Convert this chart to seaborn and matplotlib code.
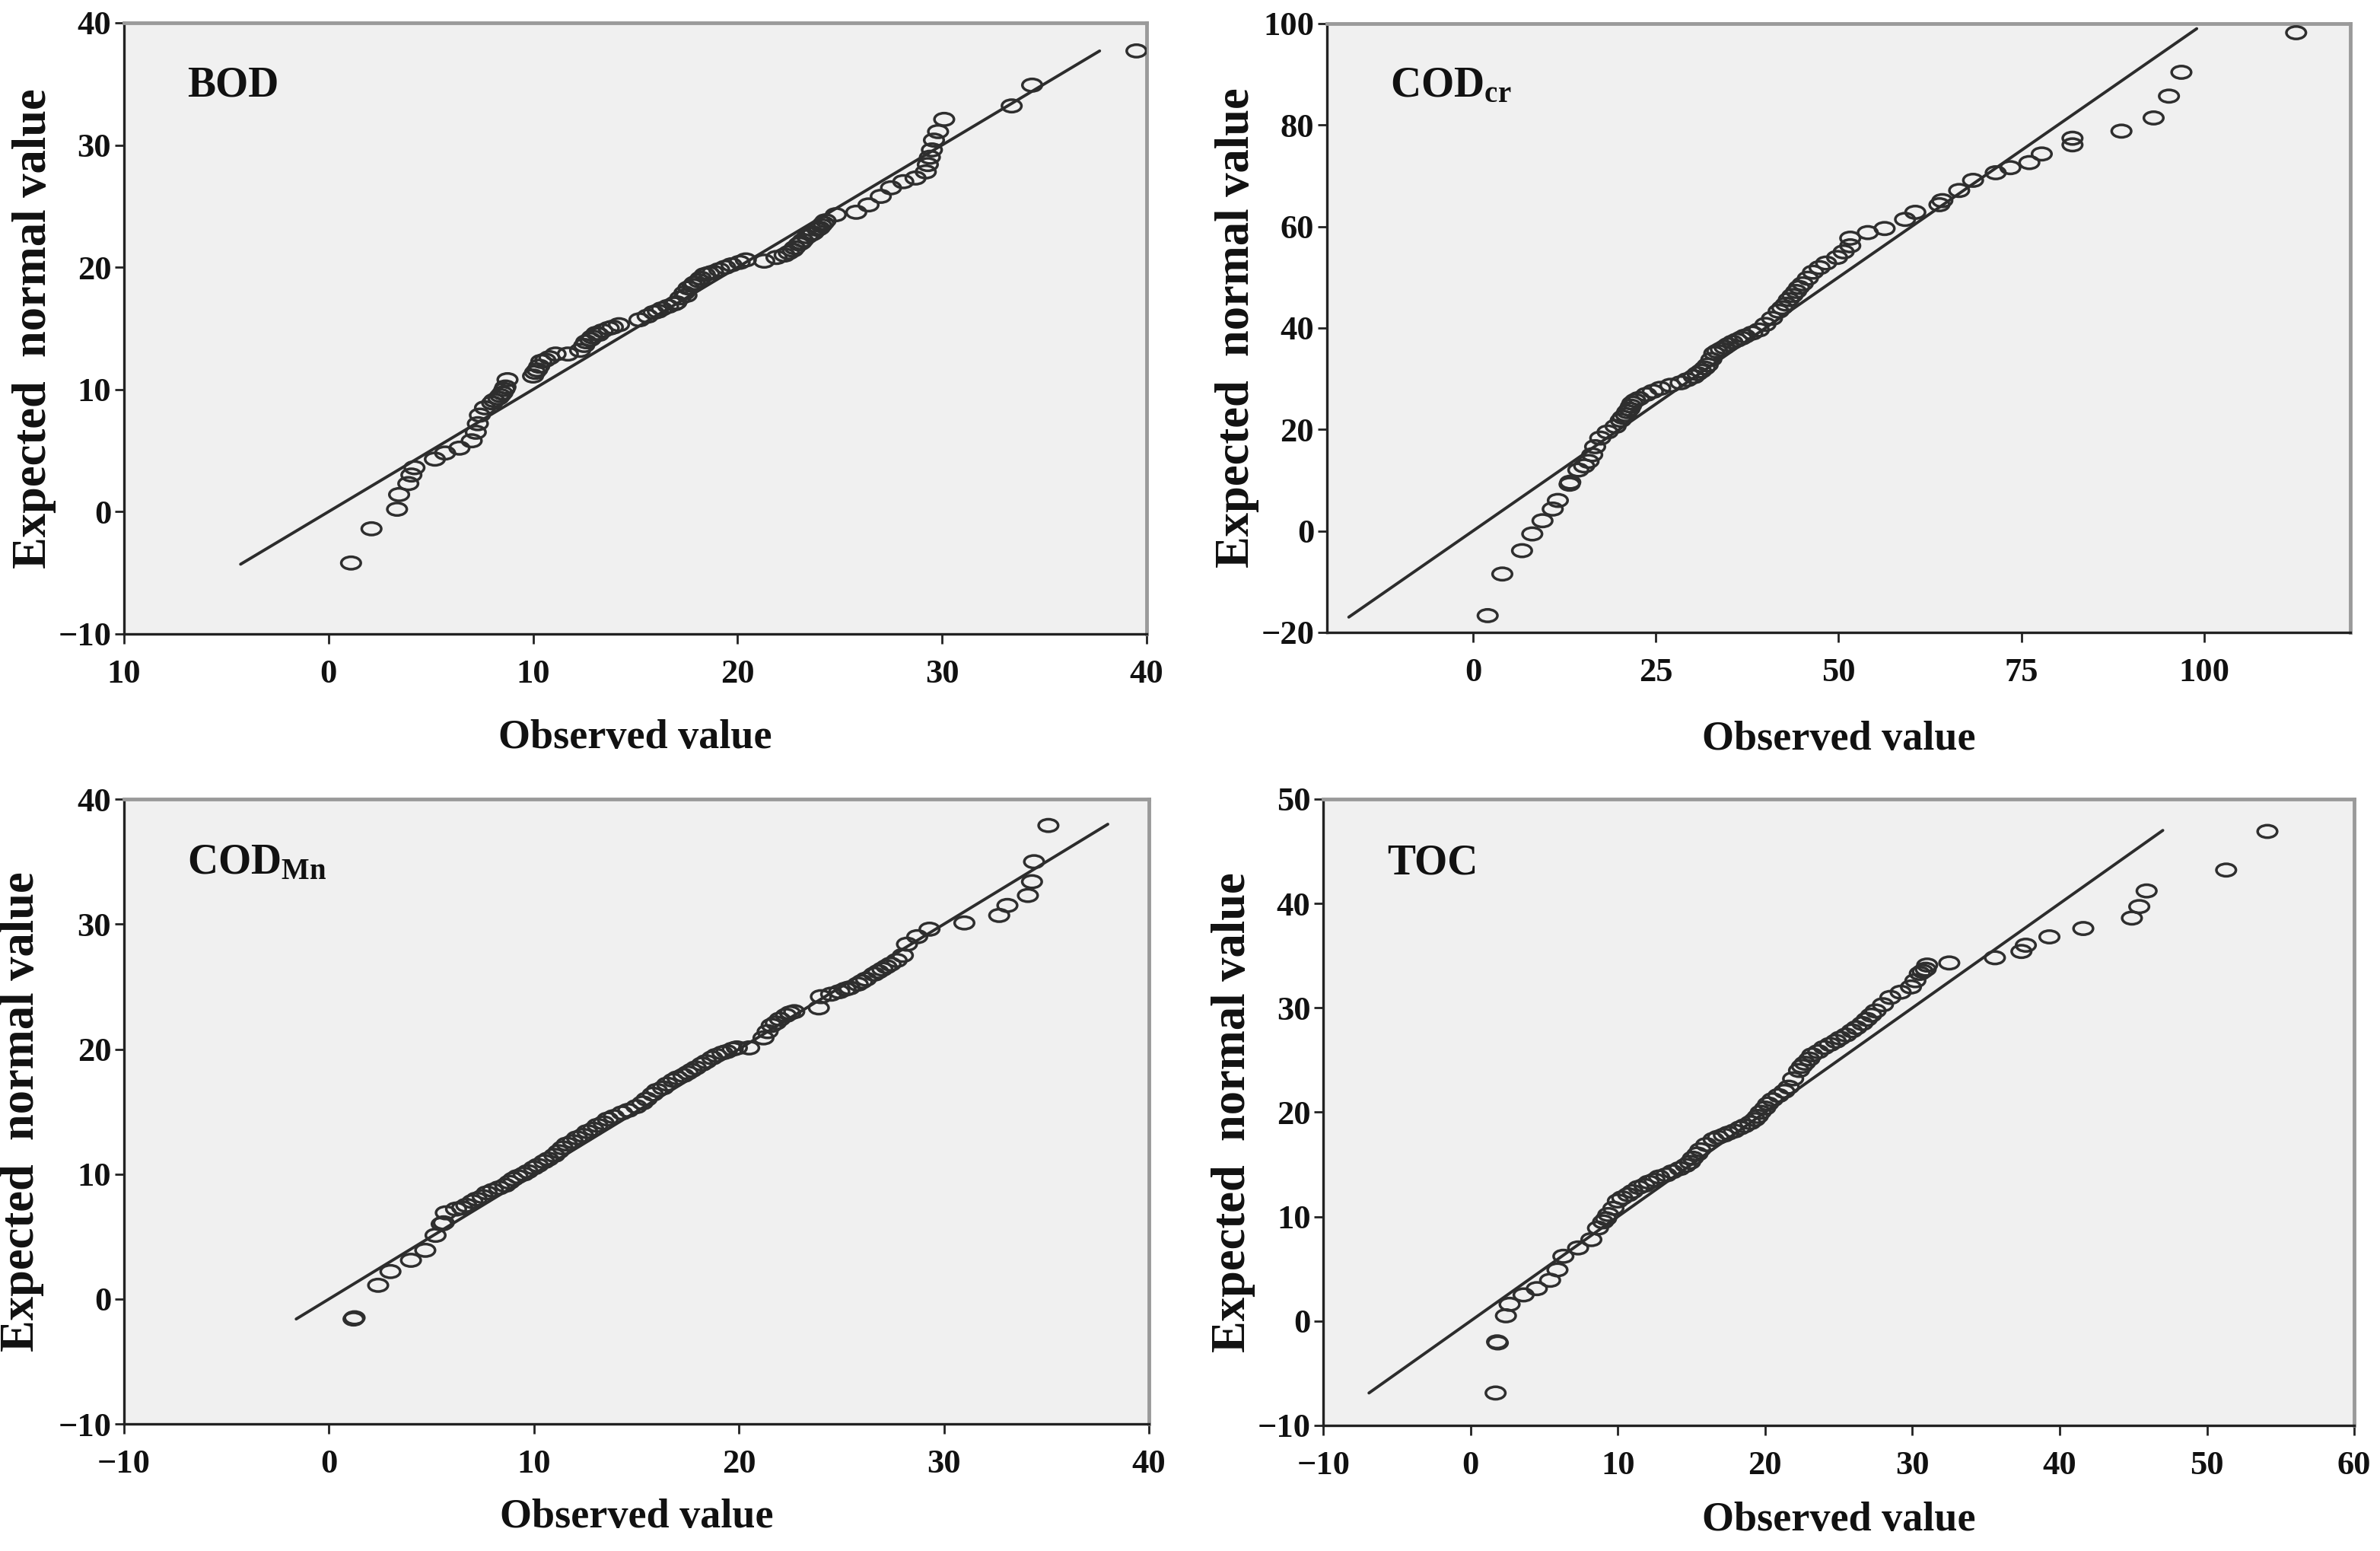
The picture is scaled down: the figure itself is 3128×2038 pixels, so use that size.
import matplotlib
matplotlib.use('Agg')
import matplotlib.pyplot as plt
import matplotlib.ticker as mticker
from matplotlib.path import Path
import numpy as np
import seaborn as sns

bod_obs = [1.1, 2.1, 3.35, 3.45, 3.9, 4.05, 4.2, 5.2, 5.7, 6.4, 7.0, 7.2, 7.3, 7.4, 7.65,
           8.0, 8.3, 8.5, 8.65, 8.75, 10.0, 10.1, 10.3, 10.4, 10.8, 11.1, 11.7, 12.3, 12.5,
           12.6, 12.9, 13.1, 13.4, 13.7, 14.2, 15.2, 15.6, 15.9, 16.3, 16.6, 17.0, 17.2, 17.4,
           17.6, 17.9, 18.2, 18.4, 18.8, 19.1, 19.4, 19.7, 20.1, 20.4, 21.3, 21.9, 22.5, 22.8,
           23.0, 23.2, 23.4, 23.7, 23.9, 24.1, 24.3, 24.8, 25.8, 26.4, 27.0, 27.5, 28.1, 28.7,
           29.2, 29.3, 29.4, 29.5, 29.6, 29.8, 30.1, 33.4, 34.4, 39.5,
           8.1, 8.4, 8.6, 10.2, 10.6, 12.8, 13.2, 13.9, 16.1, 16.9, 17.5, 17.8, 18.1, 18.6,
           22.3, 22.7, 23.1, 23.6, 24.0, 24.2]
bod_exp = [-4.2, -1.4, 0.2, 1.4, 2.3, 3.0, 3.6, 4.3, 4.8, 5.2, 5.8, 6.5, 7.2, 7.9, 8.5,
           8.9, 9.3, 9.7, 10.2, 10.8, 11.1, 11.4, 11.9, 12.3, 12.6, 12.9, 12.9, 13.2, 13.6,
           13.9, 14.3, 14.6, 14.8, 15.0, 15.3, 15.7, 16.0, 16.3, 16.6, 16.8, 17.1, 17.5, 17.9,
           18.3, 18.7, 19.1, 19.4, 19.6, 19.8, 20.0, 20.2, 20.4, 20.6, 20.5, 20.8, 21.2, 21.6,
           21.9, 22.2, 22.5, 22.8, 23.1, 23.4, 23.8, 24.3, 24.5, 25.1, 25.8, 26.5, 27.0, 27.3,
           27.8, 28.4, 29.0, 29.6, 30.4, 31.1, 32.1, 33.2, 34.9, 37.7,
           9.1, 9.5, 10.0, 11.6, 12.4, 14.1, 14.5, 15.1, 16.4, 17.0, 17.7, 18.5, 18.9, 19.5,
           21.0, 21.4, 22.0, 22.7, 23.2, 23.6]
bod_line = [-4.3, 37.7]

codcr_obs = [2.0, 4.0, 6.7, 8.1, 9.5, 10.9, 11.6, 13.2, 13.3, 14.4, 15.2, 15.8, 16.3, 16.7,
             17.4, 18.4, 19.5, 20.2, 20.9, 21.4, 21.8, 22.7, 23.7, 24.6, 25.6, 27.0, 28.4,
             29.3, 30.2, 31.2, 32.1, 32.6, 33.0, 33.9, 34.9, 36.1, 37.2, 38.2, 39.1, 40.0,
             40.9, 41.8, 42.8, 43.2, 44.2, 45.1, 45.8, 46.5, 47.4, 48.3, 49.8, 50.7, 51.6,
             51.6, 54.0, 56.3, 59.1, 60.5, 63.8, 64.2, 66.5, 68.4, 71.5, 73.5, 76.1, 77.8,
             82.0, 82.0, 88.7, 93.1, 95.2, 96.9, 112.6,
             20.5, 21.1, 21.6, 22.2, 30.7, 31.7, 33.4, 34.4, 35.5, 36.7, 42.3, 43.7, 44.6]
codcr_exp = [-16.7, -8.5, -3.9, -0.6, 2.0, 4.3, 6.0, 9.2, 9.6, 12.0, 12.8, 13.7, 15.0, 16.6,
             18.3, 19.5, 20.6, 21.8, 22.9, 24.0, 25.2, 26.1, 26.9, 27.5, 28.1, 28.7, 29.2,
             29.8, 30.4, 31.5, 32.7, 33.8, 35.0, 35.8, 36.7, 37.6, 38.4, 39.0, 39.6, 40.7,
             41.9, 43.3, 44.7, 45.6, 47.2, 48.7, 49.8, 51.0, 51.9, 52.8, 53.9, 55.0, 56.2,
             57.7, 58.8, 59.6, 61.4, 62.8, 64.3, 65.1, 67.1, 69.1, 70.6, 71.6, 72.6, 74.3,
             76.1, 77.4, 78.8, 81.4, 85.7, 90.4, 98.2,
             22.4, 23.5, 24.6, 25.7, 31.0, 32.1, 35.4, 36.2, 37.2, 38.0, 44.0, 46.4, 48.0]
codcr_line = [-17.0, 99.0]

codmn_obs = [1.2, 1.25, 2.4, 3.0, 4.0, 4.7, 5.2, 5.5, 5.6, 5.7, 6.2, 6.7, 7.2, 7.7, 8.3, 8.8,
             9.2, 9.7, 10.2, 10.7, 11.2, 11.6, 12.1, 12.6, 13.1, 13.6, 14.3, 15.0, 15.5, 16.0,
             16.5, 17.0, 17.5, 17.9, 18.4, 18.9, 19.4, 19.9, 20.5, 21.2, 21.6, 22.0, 22.5,
             23.9, 24.0, 24.5, 24.9, 25.4, 25.8, 26.2, 26.6, 27.0, 27.4, 28.0, 28.2, 28.7,
             29.3, 31.0, 32.7, 33.1, 34.1, 34.3, 34.4, 35.1,
             6.5, 7.0, 7.5, 8.0, 8.6, 9.0, 9.5, 10.0, 10.5, 11.0, 11.4, 11.9, 12.4, 12.9,
             13.4, 13.9, 14.6, 15.3, 15.8, 16.3, 16.8, 17.3, 17.7, 18.2, 18.7, 19.2, 19.7,
             21.4, 21.8, 22.3, 22.7, 25.2, 26.0, 26.8, 27.2, 27.7]
codmn_exp = [-1.6, -1.5, 1.1, 2.2, 3.1, 3.9, 5.1, 6.0, 6.1, 6.9, 7.2, 7.5, 8.0, 8.5, 8.9, 9.35,
             9.8, 10.2, 10.7, 11.2, 11.8, 12.4, 12.9, 13.4, 13.9, 14.4, 14.9, 15.4, 16.0, 16.7,
             17.2, 17.7, 18.1, 18.5, 19.0, 19.5, 19.8, 20.1, 20.1, 20.9, 21.9, 22.4, 22.9,
             23.3, 24.2, 24.4, 24.6, 24.9, 25.2, 25.6, 26.0, 26.4, 26.8, 27.5, 28.4, 29.0,
             29.6, 30.1, 30.7, 31.5, 32.3, 33.4, 35.0, 37.9,
             7.3, 7.8, 8.2, 8.7, 9.1, 9.6, 10.0, 10.5, 11.0, 11.5, 12.1, 12.6, 13.1, 13.6,
             14.1, 14.6, 15.1, 15.7, 16.4, 16.9, 17.5, 17.9, 18.3, 18.8, 19.3, 19.7, 20.0,
             21.4, 22.1, 22.7, 23.0, 24.8, 25.4, 26.2, 26.6, 27.1]
codmn_line = [-1.6, 38.0]

toc_obs = [1.7, 1.8, 1.85, 2.4, 2.65, 3.6, 4.5, 5.4, 5.9, 6.3, 7.3, 8.2, 8.65, 9.0, 9.35, 10.0,
           10.7, 11.4, 12.1, 12.8, 13.7, 14.6, 15.1, 15.6, 16.5, 17.2, 17.9, 18.6, 19.3, 19.7,
           20.2, 20.9, 21.6, 22.3, 22.7, 23.2, 24.0, 24.8, 25.5, 26.2, 26.9, 27.5, 28.5, 29.9,
           30.5, 30.9, 31.0, 32.5, 35.6, 37.4, 37.7, 39.3, 41.6, 44.9, 45.4, 45.9, 51.3, 54.1,
           9.2, 9.7, 10.3, 11.0, 11.8, 12.5, 13.3, 14.2, 14.9, 15.4, 16.0, 16.8, 17.5, 18.3,
           19.0, 19.5, 20.0, 20.5, 21.3, 21.9, 22.5, 23.0, 23.6, 24.4, 25.1, 25.9, 26.6, 27.2,
           28.0, 29.2, 30.2, 30.7]
toc_exp = [-6.9, -2.0, -2.1, 0.5, 1.6, 2.5, 3.1, 3.9, 4.9, 6.2, 7.0, 7.8, 8.9, 9.5, 10.2, 11.5,
           12.1, 12.8, 13.3, 13.8, 14.3, 14.9, 15.6, 16.4, 17.4, 17.8, 18.2, 18.7, 19.3, 20.0,
           20.8, 21.6, 22.4, 24.0, 24.7, 25.5, 26.2, 26.8, 27.4, 28.1, 28.9, 29.7, 31.0, 32.0,
           33.3, 33.7, 34.1, 34.3, 34.8, 35.4, 36.0, 36.8, 37.6, 38.6, 39.7, 41.2, 43.2, 46.9,
           9.8, 10.8, 11.8, 12.4, 13.0, 13.5, 14.0, 14.6, 15.2, 16.0, 16.9, 17.6, 18.0, 18.5,
           19.0, 19.6, 20.4, 21.2, 22.0, 23.2, 24.4, 25.1, 25.8, 26.5, 27.1, 27.8, 28.5, 29.3,
           30.3, 31.5, 32.6, 33.5]
toc_line = [-6.9, 47.0]

#%% Styling

sns.set_theme(style='ticks')
plt.rcParams['font.family'] = ['Liberation Serif', 'DejaVu Serif']
plt.rcParams['font.weight'] = 'bold'
plt.rcParams['axes.labelweight'] = 'bold'
plt.rcParams['mathtext.fontset'] = 'custom'
plt.rcParams['mathtext.rm'] = 'Liberation Serif:bold'
plt.rcParams['mathtext.bf'] = 'Liberation Serif:bold'
plt.rcParams['mathtext.it'] = 'Liberation Serif:bold'

# slightly flattened ring, like the stretched picture
unit = Path.unit_circle()
ring = Path(unit.vertices * np.array([1.0, 0.64]), unit.codes)

fig = plt.figure(figsize=(31.28, 20.38), dpi=100)

panels = [
    # name, obs, exp, line, rect, xlim, ylim, xticks, yticks, ylabel x, xlabel y
    ('BOD', bod_obs, bod_exp, bod_line, [0.0521, 0.5913, 0.4297, 0.394],
     (-10, 40), (-10, 40), [-10, 0, 10, 20, 30, 40], [-10, 0, 10, 20, 30, 40], -0.066, -0.139),
    ('COD$_{\\mathrm{cr}}$', codcr_obs, codcr_exp, codcr_line, [0.5575, 0.5923, 0.43, 0.3925],
     (-20, 120), (-20, 100), [0, 25, 50, 75, 100], [-20, 0, 20, 40, 60, 80, 100], -0.066, -0.145),
    ('COD$_{\\mathrm{Mn}}$', codmn_obs, codmn_exp, codmn_line, [0.0521, 0.0819, 0.4306, 0.4028],
     (-10, 40), (-10, 40), [-10, 0, 10, 20, 30, 40], [-10, 0, 10, 20, 30, 40], -0.078, -0.119),
    ('TOC', toc_obs, toc_exp, toc_line, [0.556, 0.081, 0.4332, 0.4038],
     (-10, 60), (-10, 50), [-10, 0, 10, 20, 30, 40, 50, 60], [-10, 0, 10, 20, 30, 40, 50], -0.066, -0.1215),
]

for i, (name, obs, exp, line, rect, xlim, ylim, xt, yt, ylx, xly) in enumerate(panels):
    ax = fig.add_axes(rect)
    ax.set_facecolor('#f0f0f0')

    # reference line
    sns.lineplot(x=line, y=line, ax=ax, color='#2c2c2c', linewidth=2.8)
    # observed points
    sns.scatterplot(x=obs, y=exp, ax=ax, marker=ring, s=340, facecolors='none',
                    edgecolor='#2e2e2e', linewidth=2.5, zorder=3)

    ax.set_xlim(*xlim)
    ax.set_ylim(*ylim)
    ax.set_xticks(xt)
    ax.set_yticks(yt)
    if i == 0:
        # the first label of this panel lost its minus sign in the original
        ax.xaxis.set_major_formatter(mticker.FixedFormatter(['10', '0', '10', '20', '30', '40']))

    ax.tick_params(axis='x', direction='out', length=9, width=2, color='#222222',
                   labelsize=32, pad=15, labelcolor='#111111')
    ax.tick_params(axis='y', direction='out', length=9, width=2, color='#222222',
                   labelsize=32, pad=3, labelcolor='#111111')

    for side in ['left', 'bottom']:
        ax.spines[side].set_color('#222222')
        ax.spines[side].set_linewidth(2.4)
    for side in ['top', 'right']:
        ax.spines[side].set_color('#9a9a9a')
        ax.spines[side].set_linewidth(3.5)

    ax.set_xlabel('Observed value', fontsize=39, fontweight='bold', color='#111111')
    ax.set_ylabel('Expected  normal value', fontsize=45, fontweight='bold', color='#111111')
    ax.xaxis.set_label_coords(0.5, xly)
    ax.yaxis.set_label_coords(ylx, 0.5)

    ax.text(0.062, 0.88, name, transform=ax.transAxes, fontsize=40, fontweight='bold',
            color='#111111', va='baseline', ha='left')

fig.savefig('out.png', dpi=100, facecolor='white')
